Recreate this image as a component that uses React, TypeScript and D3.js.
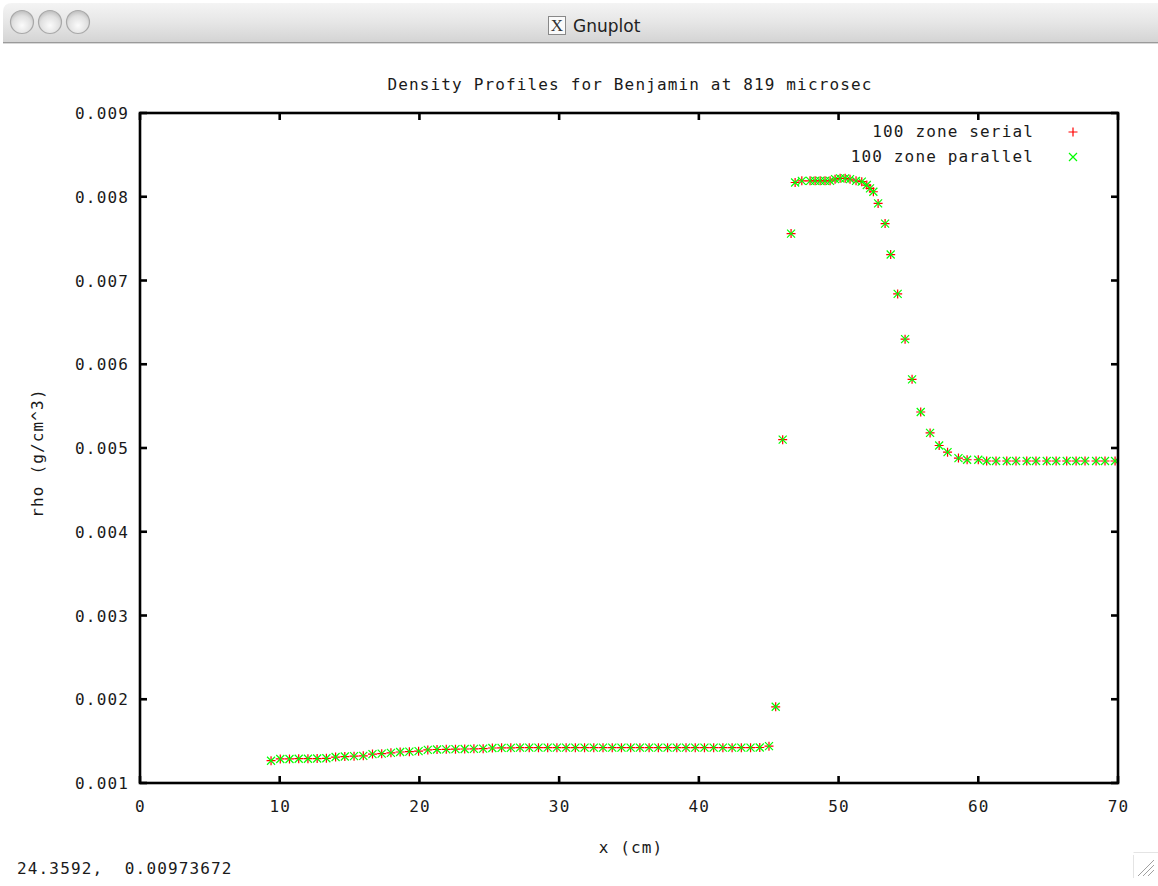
import React from "react";
import * as d3 from "d3";

const W = 1158;
const H = 886;

const chartTitle = "Density Profiles for Benjamin at 819 microsec";
const xLabel = "x (cm)";
const yLabel = "rho (g/cm^3)";
const statusText = "24.3592,\u00a0\u00a00.00973672";
const seriesNames = ["100 zone serial", "100 zone parallel"];

const xTicks = [0, 10, 20, 30, 40, 50, 60, 70];
const yTicks = [0.001, 0.002, 0.003, 0.004, 0.005, 0.006, 0.007, 0.008, 0.009];

const xs = [
  9.38, 10.04, 10.7, 11.36, 12.02, 12.68, 13.34, 14.0, 14.66, 15.32, 15.98, 16.64, 17.3, 17.96,
  18.62, 19.28, 19.94, 20.6, 21.26, 21.92, 22.58, 23.24, 23.9, 24.56, 25.22, 25.88, 26.54, 27.2,
  27.86, 28.52, 29.18, 29.84, 30.5, 31.16, 31.82, 32.48, 33.14, 33.8, 34.46, 35.12, 35.78, 36.44,
  37.1, 37.76, 38.42, 39.08, 39.74, 40.4, 41.06, 41.72, 42.38, 43.04, 43.7, 44.36, 45.02,
  45.5, 46.0, 46.6,
  46.89, 47.37, 47.96, 48.32, 48.68, 49.03, 49.39, 49.75, 50.11, 50.47, 50.82, 51.25, 51.66,
  52.02, 52.25, 52.49, 52.83, 53.33, 53.73, 54.23, 54.76, 55.26, 55.88, 56.55, 57.2, 57.8,
  58.58, 59.2, 60.0, 60.6, 61.27, 62.04, 62.7, 63.47, 64.13, 64.9, 65.57, 66.33, 67.0, 67.64,
  68.43, 69.07, 69.79,
];

const serialRho = [
  0.001266, 0.001287, 0.001287, 0.00129, 0.00129, 0.001292, 0.001295, 0.00131, 0.001316, 0.00132,
  0.001324, 0.001345, 0.00135, 0.00136, 0.00137, 0.001374, 0.00138, 0.001395, 0.0014, 0.001402,
  0.001404, 0.001406, 0.001408, 0.00141, 0.001418, 0.00142, 0.00142, 0.001422, 0.001422, 0.001422,
  0.001422, 0.001422, 0.001422, 0.001422, 0.001422, 0.001422, 0.001422, 0.001422, 0.001422, 0.001422,
  0.001422, 0.001422, 0.001422, 0.001422, 0.001422, 0.001422, 0.001422, 0.001422, 0.001422, 0.001422,
  0.001422, 0.001422, 0.001422, 0.001424, 0.00144,
  0.00191, 0.0051, 0.00756,
  0.00817, 0.00819, 0.00819, 0.00819, 0.00819, 0.00819, 0.00819, 0.00821, 0.00822, 0.00822, 0.00821,
  0.00819, 0.00818, 0.00814, 0.0081, 0.00806, 0.00792, 0.00768, 0.00731, 0.00684, 0.0063, 0.00582,
  0.00543, 0.00518, 0.00503, 0.00495, 0.00488, 0.00486, 0.00486, 0.004845, 0.004845, 0.004845,
  0.004845, 0.004845, 0.004845, 0.004845, 0.004845, 0.004845, 0.004845, 0.004845, 0.004845,
  0.004845, 0.004845,
];

const parallelRho = [
  0.001266, 0.001287, 0.001287, 0.00129, 0.00129, 0.001292, 0.001295, 0.00131, 0.001316, 0.00132,
  0.001324, 0.001345, 0.00135, 0.00136, 0.00137, 0.001374, 0.00138, 0.001395, 0.0014, 0.001402,
  0.001404, 0.001406, 0.001408, 0.00141, 0.001418, 0.00142, 0.00142, 0.001422, 0.001422, 0.001422,
  0.001422, 0.001422, 0.001422, 0.001422, 0.001422, 0.001422, 0.001422, 0.001422, 0.001422, 0.001422,
  0.001422, 0.001422, 0.001422, 0.001422, 0.001422, 0.001422, 0.001422, 0.001422, 0.001422, 0.001422,
  0.001422, 0.001422, 0.001422, 0.001424, 0.00144,
  0.00191, 0.0051, 0.00756,
  0.00817, 0.00819, 0.00819, 0.00819, 0.00819, 0.00819, 0.00819, 0.00821, 0.00822, 0.00822, 0.00821,
  0.00819, 0.00818, 0.00814, 0.0081, 0.00806, 0.00792, 0.00768, 0.00731, 0.00684, 0.0063, 0.00582,
  0.00543, 0.00518, 0.00503, 0.00495, 0.00488, 0.00486, 0.00486, 0.004845, 0.004845, 0.004845,
  0.004845, 0.004845, 0.004845, 0.004845, 0.004845, 0.004845, 0.004845, 0.004845, 0.004845,
  0.004845, 0.004845,
];

const MONO = "'DejaVu Sans Mono', monospace";
const fontProps = {
  fontFamily: MONO,
  fontSize: 16,
  letterSpacing: 1.15,
  fill: "#1a1a1a",
};

const PLUS = "M-4.5,0H4.5M0,-4.5V4.5";
const CROSS = "M-4,-4L4,4M-4,4L4,-4";

export default function App() {
  const left = 140;
  const right = 1118;
  const top = 113;
  const bottom = 783;

  const x = d3.scaleLinear().domain([0, 70]).range([left, right]);
  const y = d3.scaleLinear().domain([0.001, 0.009]).range([bottom, top]);

  const fmtY = d3.format(".3f");
  const tickLen = 7;

  return (
    <svg
      width={W}
      height={H}
      style={{ position: "absolute", left: 0, top: 0, background: "#fff" }}
    >
      <defs>
        <linearGradient id="tb" x1="0" y1="0" x2="0" y2="1">
          <stop offset="0" stopColor="#f4f4f4" />
          <stop offset="0.5" stopColor="#e6e6e6" />
          <stop offset="1" stopColor="#d4d4d4" />
        </linearGradient>
        <radialGradient id="btn" cx="0.5" cy="0.65" r="0.6">
          <stop offset="0" stopColor="#fbfbfb" />
          <stop offset="0.7" stopColor="#e0e0e0" />
          <stop offset="1" stopColor="#c4c4c4" />
        </radialGradient>
        <clipPath id="plotClip">
          <rect x={left} y={top - 6} width={right - left + 1} height={bottom - top + 12} />
        </clipPath>
      </defs>

      {/* window chrome */}
      <rect x={0} y={0} width={W} height={H} fill="#fff" />
      <path d={`M3,42 V12 Q3,3 12,3 H${W} V42 Z`} fill="url(#tb)" />
      <line x1={3} x2={W} y1={42.5} y2={42.5} stroke="#9a9a9a" strokeWidth={1} />
      <line x1={3} x2={W} y1={43.5} y2={43.5} stroke="#d8d8d8" strokeWidth={1} />
      {[22, 50, 78].map((cx) => (
        <circle key={cx} cx={cx} cy={22} r={11.5} fill="url(#btn)" stroke="#a8a8a8" strokeWidth={1.2} />
      ))}
      <rect x={548.5} y={16.5} width={17} height={18} fill="#fafafa" stroke="#888" strokeWidth={1} />
      <text x={557} y={31} textAnchor="middle" fontFamily="'Liberation Serif', serif" fontSize={17} fill="#333">
        X
      </text>
      <text x={573} y={32} fontFamily="'DejaVu Sans', sans-serif" fontSize={17} fill="#222">
        Gnuplot
      </text>

      {/* title */}
      <text {...fontProps} x={630} y={90} textAnchor="middle">
        {chartTitle}
      </text>

      {/* data */}
      <g clipPath="url(#plotClip)">
        {xs.map((xv, i) => (
          <path
            key={"s" + i}
            d={PLUS}
            transform={`translate(${x(xv)},${y(serialRho[i])})`}
            stroke="#ff0000"
            strokeWidth={1.2}
            fill="none"
          />
        ))}
        {xs.map((xv, i) => (
          <path
            key={"p" + i}
            d={CROSS}
            transform={`translate(${x(xv)},${y(parallelRho[i])})`}
            stroke="#00ff00"
            strokeWidth={1.2}
            fill="none"
          />
        ))}
      </g>

      {/* border */}
      <rect
        x={left}
        y={top}
        width={right - left}
        height={bottom - top}
        fill="none"
        stroke="#000"
        strokeWidth={2.6}
      />

      {/* x ticks */}
      {xTicks.map((t) => (
        <g key={"xt" + t}>
          <line x1={x(t)} x2={x(t)} y1={bottom} y2={bottom - tickLen} stroke="#000" strokeWidth={2.6} />
          <line x1={x(t)} x2={x(t)} y1={top} y2={top + tickLen} stroke="#000" strokeWidth={2.6} />
          <text {...fontProps} x={x(t) + 0.5} y={812} textAnchor="middle">
            {String(t)}
          </text>
        </g>
      ))}

      {/* y ticks */}
      {yTicks.map((t) => (
        <g key={"yt" + t}>
          <line x1={left} x2={left + tickLen} y1={y(t)} y2={y(t)} stroke="#000" strokeWidth={2.6} />
          <line x1={right} x2={right - tickLen} y1={y(t)} y2={y(t)} stroke="#000" strokeWidth={2.6} />
          <text {...fontProps} x={129} y={y(t) + 6} textAnchor="end">
            {fmtY(t)}
          </text>
        </g>
      ))}

      {/* axis labels */}
      <text {...fontProps} x={631} y={853} textAnchor="middle">
        {xLabel}
      </text>
      <text {...fontProps} transform={`translate(43,453) rotate(-90)`} textAnchor="middle">
        {yLabel}
      </text>

      {/* legend */}
      <text {...fontProps} x={1034} y={137} textAnchor="end">
        {seriesNames[0]}
      </text>
      <path d={PLUS} transform="translate(1073,132)" stroke="#ff0000" strokeWidth={1.2} fill="none" />
      <text {...fontProps} x={1034} y={162} textAnchor="end">
        {seriesNames[1]}
      </text>
      <path d={CROSS} transform="translate(1073,157)" stroke="#00ff00" strokeWidth={1.2} fill="none" />

      {/* status bar */}
      <text {...fontProps} x={17} y={874}>
        {statusText}
      </text>

      {/* resize grip */}
      <g stroke="#a0a0a0" strokeWidth={1}>
        <line x1={1133.5} y1={855} x2={1133.5} y2={878} stroke="#e4e4e4" />
        <line x1={1133.5} y1={852.5} x2={1158} y2={852.5} stroke="#e4e4e4" />
        <line x1={1138} y1={876} x2={1154} y2={860} />
        <line x1={1143} y1={876} x2={1154} y2={865} />
        <line x1={1148} y1={876} x2={1154} y2={870} />
      </g>
    </svg>
  );
}
